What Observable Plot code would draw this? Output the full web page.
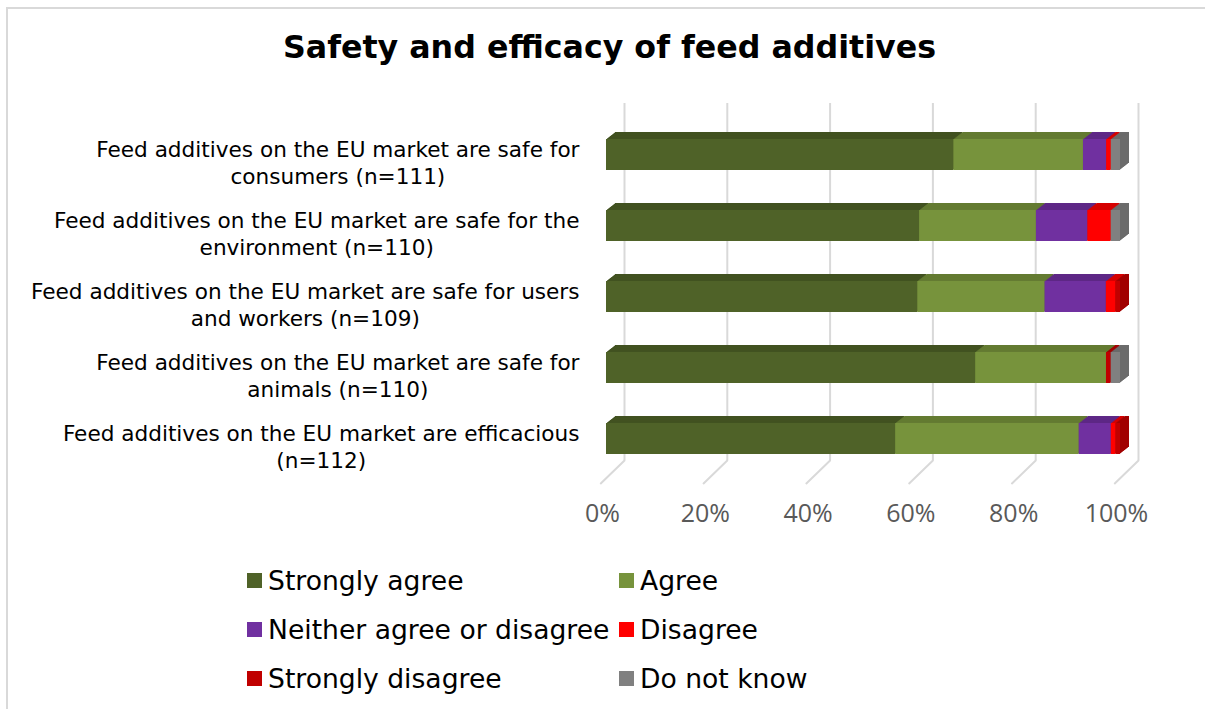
<!DOCTYPE html>
<html>
<head>
<meta charset="utf-8">
<script src="https://cdn.jsdelivr.net/npm/d3@7"></script>
<script src="https://cdn.jsdelivr.net/npm/@observablehq/plot@0.6"></script>
<style>
  html, body { margin: 0; padding: 0; background: #fff; }
  body { width: 1205px; height: 709px; overflow: hidden; position: relative; font-family: "DejaVu Sans", Verdana, sans-serif; }
  #frame { position: absolute; left: 6px; top: 7px; width: 1300px; height: 800px; border-left: 2px solid #d9d9d9; border-top: 2px solid #d9d9d9; box-sizing: border-box; pointer-events: none; }
  #title { height: 90px; box-sizing: border-box; padding-top: 31px; padding-left: 14px; text-align: center; font-weight: bold; font-size: 31.7px; line-height: 32px; color: #000; }
  #chart { height: 455px; }
  #chart svg { display: block; }
  #legend { position: relative; height: 164px; box-sizing: border-box; padding-top: 11px; padding-left: 247px; display: grid; grid-template-columns: 372px 300px; grid-auto-rows: 49px; font-size: 26.6px; color: #000; }
  .item { display: flex; align-items: center; white-space: nowrap; }
  .sw { width: 15px; height: 15px; margin-right: 6px; flex: none; }
</style>
</head>
<body>
<div id="frame"></div>
<div id="title">Safety and efficacy of feed additives</div>
<div id="chart"></div>
<div id="legend"></div>
<script>
// ---- data ----
const categories = [
  "Feed additives on the EU market are safe for\nconsumers (n=111)",
  "Feed additives on the EU market are safe for the\nenvironment (n=110)",
  "Feed additives on the EU market are safe for users\nand workers (n=109)",
  "Feed additives on the EU market are safe for\nanimals (n=110)",
  "Feed additives on the EU market are efficacious\n(n=112)"
];
const seriesNames = ["Strongly agree", "Agree", "Neither agree or disagree", "Disagree", "Strongly disagree", "Do not know"];
const seriesColors = ["#4f6228", "#77933c", "#7030a0", "#ff0000", "#c00000", "#808080"];
// number of respondents per answer (rows follow categories, columns follow seriesNames)
const stronglyAgree    = [75, 67, 66, 79, 63];
const agree            = [28, 25, 27, 28, 40];
const neither          = [5, 11, 13, 0, 7];
const disagree         = [1, 5, 2, 0, 1];
const stronglyDisagree = [0, 0, 1, 1, 1];
const doNotKnow        = [2, 2, 0, 2, 0];
const tickValues = [0, 0.2, 0.4, 0.6, 0.8, 1];
const tickLabels = ["0%", "20%", "40%", "60%", "80%", "100%"];

// ---- table ----
const seriesValues = [stronglyAgree, agree, neither, disagree, stronglyDisagree, doNotKnow];
const table = [];
categories.forEach((c, i) => {
  seriesNames.forEach((s, j) => {
    table.push({category: c, series: s, value: seriesValues[j][i]});
  });
});

// ---- styling helpers ----
const darkColors = seriesColors.map(c => d3.color(c).darker(0.5).formatHex());
const colorDomain = [...seriesNames, ...seriesNames.map(s => s + " (depth)")];
const colorRange = [...seriesColors, ...darkColors];

const W = 1205, H = 455;
const depthX = 9, depthY = 7;

const stackOpts = {offset: "normalize", order: seriesNames, z: "series"};
const marks = [];

// back gridlines
marks.push(Plot.ruleX(tickValues, {x: d => d, dx: 18, stroke: "#d9d9d9", strokeWidth: 2}));
// floor diagonals
const diag = {draw(context, l) { context.moveTo(0, 0); context.lineTo(0, -l); }};
marks.push(Plot.vector(tickValues, {x: d => d, frameAnchor: "bottom", dx: 18, length: 33, rotate: 226, anchor: "start", shape: diag, stroke: "#d9d9d9", strokeWidth: 2}));

// 3D depth layers
for (let k = depthX; k >= 1; k--) {
  marks.push(Plot.barX(table, Plot.stackX({
    ...stackOpts,
    x: "value", y: "category",
    fill: d => d.series + " (depth)",
    dx: k, dy: -k * depthY / depthX,
    insetTop: 20, insetBottom: 20
  })));
}
// front faces
marks.push(Plot.barX(table, Plot.stackX({
  ...stackOpts,
  x: "value", y: "category",
  fill: "series",
  insetTop: 20, insetBottom: 20
})));

// category labels (centered block, right edge at a fixed offset left of the bars)
const labelSize = 21.6;
const ctx = document.createElement("canvas").getContext("2d");
ctx.font = labelSize + "px 'DejaVu Sans'";
categories.forEach(c => {
  const w = Math.max(...c.split("\n").map(line => ctx.measureText(line).width));
  marks.push(Plot.text([c], {
    y: d => d, text: d => d, frameAnchor: "left",
    textAnchor: "middle", lineAnchor: "middle",
    dx: -27 - w / 2, dy: 7,
    fontSize: labelSize, lineHeight: 1.26, fill: "#000",
    fontFamily: "DejaVu Sans, Verdana, sans-serif"
  }));
});

// x tick labels
marks.push(Plot.text(tickValues, {
  x: d => d, text: (d, i) => tickLabels[i], frameAnchor: "bottom",
  dy: 61, dx: -4, fontSize: 25, fill: "#595959",
  fontFamily: "Open Sans, sans-serif"
}));

const plot = Plot.plot({
  width: W, height: H,
  marginLeft: 606, marginRight: 69, marginTop: 13, marginBottom: 85,
  x: {domain: [0, 1], range: [606, 1120], axis: null},
  y: {domain: categories, range: [29.2, 384.2], padding: 0, axis: null},
  color: {domain: colorDomain, range: colorRange},
  style: {background: "transparent", overflow: "visible"},
  marks
});
document.getElementById("chart").appendChild(plot);

// legend
const legend = document.getElementById("legend");
seriesNames.forEach((s, i) => {
  const item = document.createElement("div");
  item.className = "item";
  const sw = document.createElement("span");
  sw.className = "sw";
  sw.style.background = seriesColors[i];
  const t = document.createElement("span");
  t.textContent = s;
  item.appendChild(sw);
  item.appendChild(t);
  legend.appendChild(item);
});
</script>
</body>
</html>
